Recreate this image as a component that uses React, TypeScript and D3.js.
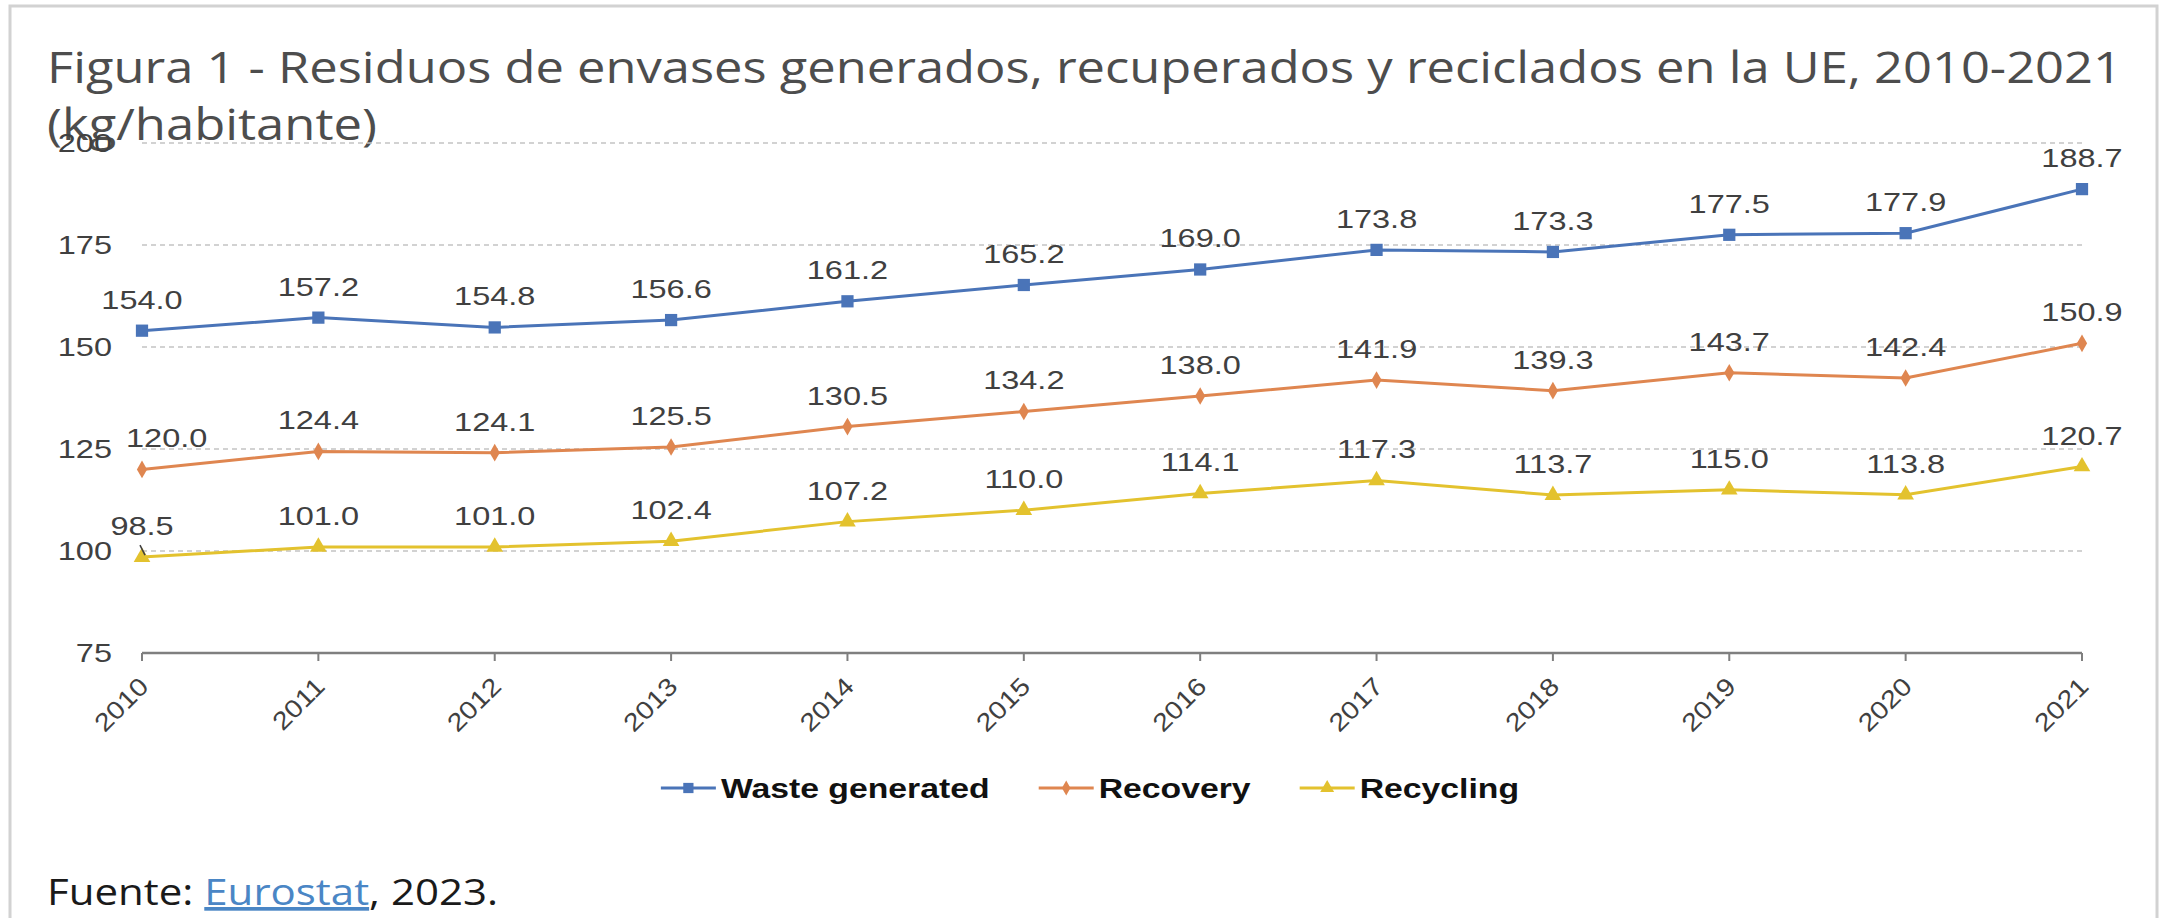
import React from 'react'
import * as d3 from 'd3'

const years = ['2010', '2011', '2012', '2013', '2014', '2015', '2016', '2017', '2018', '2019', '2020', '2021']
const wasteGenerated = [154.0, 157.2, 154.8, 156.6, 161.2, 165.2, 169.0, 173.8, 173.3, 177.5, 177.9, 188.7]
const recovery = [120.0, 124.4, 124.1, 125.5, 130.5, 134.2, 138.0, 141.9, 139.3, 143.7, 142.4, 150.9]
const recycling = [98.5, 101.0, 101.0, 102.4, 107.2, 110.0, 114.1, 117.3, 113.7, 115.0, 113.8, 120.7]
const yTicks = [75, 100, 125, 150, 175, 200]

const titleLine1 = 'Figura 1 - Residuos de envases generados, recuperados y reciclados en la UE, 2010-2021'
const titleLine2 = '(kg/habitante)'
const sourceLabel = 'Fuente: '
const sourceLink = 'Eurostat'
const sourceYear = ', 2023.'

const series = [
    { name: 'Waste generated', values: wasteGenerated, color: '#4a74b8', symbol: d3.symbolSquare, size: 150 },
    { name: 'Recovery', values: recovery, color: '#df8650', symbol: d3.symbolDiamond, size: 90 },
    { name: 'Recycling', values: recycling, color: '#e3c22e', symbol: d3.symbolTriangle, size: 120 },
]
// the label Excel pulled aside and tied back with a leader line
const leaderLabel = { series: 'Recycling', year: '2010' }

const width = 2177
const height = 918
const margin = { left: 142, right: 95, top: 143, bottom: 265 }

const labelFont = '"Liberation Sans", Arial, sans-serif'
const sx = 1.3

const ctx = typeof document !== 'undefined' ? document.createElement('canvas').getContext('2d') : null
const measure = (s: string, font: string) => {
    if (!ctx) return s.length * 14
    ctx.font = font
    return ctx.measureText(s).width
}

const SText = ({ x, y, k = sx, children, ...rest }: any) => (
    <text transform={`translate(${x},${y}) scale(${k},1)`} {...rest}>{children}</text>
)

export default function App() {
    const x = d3.scalePoint().domain(years).range([margin.left, width - margin.right])
    const y = d3.scaleLinear().domain([75, 200]).range([height - margin.bottom, margin.top])
    const axisY = y(75)

    const line = d3.line<number>()
        .x((_d, i) => x(years[i]) as number)
        .y(d => y(d))

    // data labels, pushed right when they would run into the y tick labels
    const tickLabelRight = margin.left - 30
    const labels = series.flatMap(s => s.values.map((v, i) => {
        const px = x(years[i]) as number
        const py = y(v)
        const text = v.toFixed(1)
        const w = measure(text, `25px ${labelFont}`) * sx
        let cx = px
        const base = py - 22
        const hitsTick = yTicks.some(t => Math.abs((base - 9) - y(t)) < 18)
        if (hitsTick && cx - w / 2 < tickLabelRight + 14) cx = tickLabelRight + 14 + w / 2
        const leader = s.name === leaderLabel.series && years[i] === leaderLabel.year
        return { key: s.name + i, text, cx, base, px, py, leader }
    }))

    const legendFont = `bold 27px ${labelFont}`
    const legendSx = 1.25
    const lineLen = 55, textGap = 5, itemGap = 49
    const items = series.map(s => ({ ...s, tw: measure(s.name, legendFont) * legendSx }))
    const legendTotal = d3.sum(items, d => lineLen + textGap + d.tw) + itemGap * (items.length - 1)
    let lx = 1090 - legendTotal / 2
    const legendItems = items.map(d => {
        const item = { ...d, x0: lx }
        lx += lineLen + textGap + d.tw + itemGap
        return item
    })
    const legendY = 788

    const titleFont = '"Open Sans", "Noto Sans", sans-serif'

    return (
        <div style={{ position: 'absolute', left: 0, top: 0 }}>
            <svg width={width} height={height} style={{ display: 'block', background: '#fff' }}>
                <rect x={10} y={6} width={2147} height={940} fill="#fff" stroke="#d2d2d2" strokeWidth={3} />

                <text x={47} y={83} fontFamily={titleFont} fontSize={43} fill="#4d4d4d"
                    textLength={2075} lengthAdjust="spacingAndGlyphs">{titleLine1}</text>
                <text x={47} y={140} fontFamily={titleFont} fontSize={43} fill="#4d4d4d"
                    textLength={330} lengthAdjust="spacingAndGlyphs">{titleLine2}</text>

                {yTicks.filter(t => t > 75).map(t => (
                    <line key={t} x1={margin.left} x2={width - margin.right} y1={y(t)} y2={y(t)}
                        stroke="#c4c4c4" strokeWidth={1.5} strokeDasharray="5,4" />
                ))}
                {yTicks.map(t => (
                    <SText key={t} x={tickLabelRight} y={y(t) + 9} k={1.25} textAnchor="end"
                        fontFamily={labelFont} fontSize={26} fill="#404040">{t}</SText>
                ))}

                <line x1={margin.left} x2={width - margin.right} y1={axisY} y2={axisY} stroke="#7f7f7f" strokeWidth={2.5} />
                {years.map(yr => (
                    <g key={yr}>
                        <line x1={x(yr)} x2={x(yr)} y1={axisY} y2={axisY + 8} stroke="#7f7f7f" strokeWidth={2} />
                        <text transform={`translate(${(x(yr) as number) + 8},${axisY + 35}) rotate(-45) scale(1.15,1)`}
                            textAnchor="end" fontFamily={labelFont} fontSize={25} fill="#404040">{yr}</text>
                    </g>
                ))}

                {series.map(s => (
                    <g key={s.name}>
                        <path d={line(s.values) as string} fill="none" stroke={s.color} strokeWidth={3} />
                        {s.values.map((v, i) => (
                            <path key={i} transform={`translate(${x(years[i])},${y(v)})`}
                                d={d3.symbol(s.symbol, s.size)() as string} fill={s.color} />
                        ))}
                    </g>
                ))}

                {labels.map(l => (
                    <g key={l.key}>
                        {l.leader && (
                            <line x1={l.cx - 2} y1={l.base + 10} x2={l.px + 3} y2={l.py - 2} stroke="#404040" strokeWidth={1.5} />
                        )}
                        <SText x={l.cx} y={l.base} textAnchor="middle" fontFamily={labelFont} fontSize={25} fill="#404040">{l.text}</SText>
                    </g>
                ))}

                {legendItems.map(d => (
                    <g key={d.name}>
                        <line x1={d.x0} x2={d.x0 + lineLen} y1={legendY} y2={legendY} stroke={d.color} strokeWidth={3} />
                        <path transform={`translate(${d.x0 + lineLen / 2},${legendY})`} d={d3.symbol(d.symbol, d.size * 0.7)() as string} fill={d.color} />
                        <SText x={d.x0 + lineLen + textGap} y={legendY + 10} k={legendSx} fontFamily={labelFont}
                            fontSize={27} fontWeight="bold" fill="#111">{d.name}</SText>
                    </g>
                ))}

                <text x={47} y={905} fontFamily={titleFont} fontSize={37} fill="#1a1a1a"
                    textLength={451} lengthAdjust="spacingAndGlyphs">
                    {sourceLabel}
                    <tspan fill="#4a86c5" textDecoration="underline">{sourceLink}</tspan>
                    {sourceYear}
                </text>
            </svg>
        </div>
    )
}
